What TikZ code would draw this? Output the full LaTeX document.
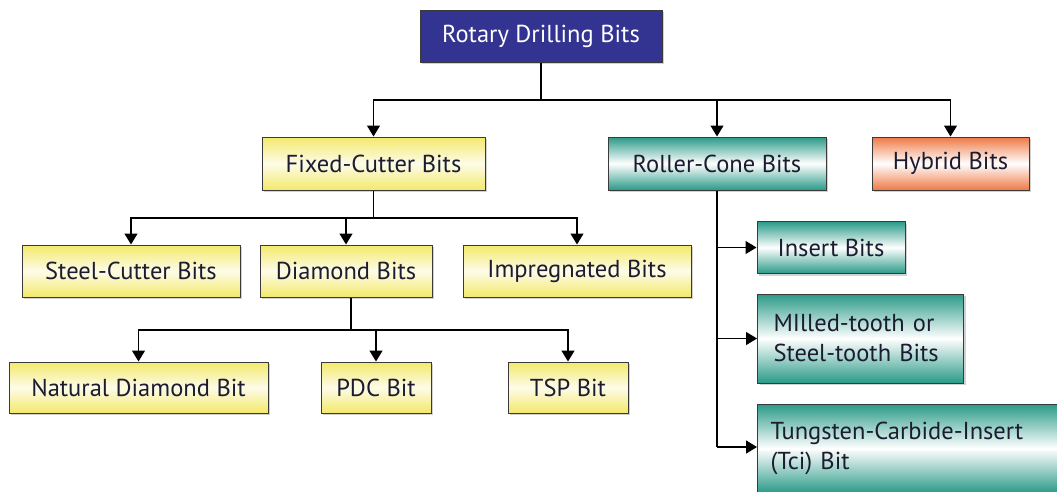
\documentclass[tikz,border=0pt]{standalone}
\usepackage{fontspec}
\setmainfont{PT Sans}
\usetikzlibrary{arrows.meta,shadows}
\definecolor{rootblue}{HTML}{333391}
\definecolor{yfill}{HTML}{F3E96A}
\definecolor{tfill}{HTML}{2A9A88}
\definecolor{ofill}{HTML}{EE7A45}
\definecolor{edgegray}{HTML}{3A3A3A}
\definecolor{txt}{HTML}{1C1C30}
\tikzset{
  x=1pt, y=-1pt,
  box/.style={draw=edgegray, line width=1pt, rectangle, inner sep=0pt,
    font=\fontsize{24.5}{30}\selectfont, text=txt,
    drop shadow={shadow xshift=2pt, shadow yshift=-2pt, fill=black!30, opacity=0.6}},
  ybox/.style={box, top color=yfill, bottom color=yfill, middle color=white!85!yfill},
  tbox/.style={box, top color=tfill, bottom color=tfill, middle color=white},
  obox/.style={box, top color=ofill, bottom color=ofill, middle color=white},
  rootbox/.style={box, fill=rootblue, text=white},
  conn/.style={draw=black, line width=1.3pt},
  arr/.style={conn, -{Triangle[length=11pt,width=13pt]}}
}
\begin{document}
\begin{tikzpicture}
\useasboundingbox (0,0) rectangle (1057,491);

% root
\node[rootbox, minimum width=242pt, minimum height=52pt] (root) at (541,36) {Rotary Drilling Bits};

% first level
\node[ybox, minimum width=223pt, minimum height=53pt] (fc) at (373.5,163.5) {Fixed-Cutter Bits};
\node[tbox, minimum width=218pt, minimum height=53pt] (rc) at (717,163.5) {Roller-Cone Bits};
\node[obox, minimum width=157pt, minimum height=53pt] (hy) at (950.5,163.5) {Hybrid Bits};

% fixed-cutter children
\node[ybox, minimum width=218pt, minimum height=52pt] (sc) at (131,271) {Steel-Cutter Bits};
\node[ybox, minimum width=172pt, minimum height=52pt] (di) at (346,271) {Diamond Bits};
\node[ybox, minimum width=228pt, minimum height=52pt] (im) at (577,271) {Impregnated Bits};

% diamond children
\node[ybox, minimum width=259pt, minimum height=51pt] (nd) at (138.5,387.5) {Natural Diamond Bit};
\node[ybox, minimum width=110pt, minimum height=51pt] (pdc) at (376,387.5) {PDC Bit};
\node[ybox, minimum width=120pt, minimum height=51pt] (tsp) at (568,387.5) {TSP Bit};

% roller-cone children
\node[tbox, minimum width=148pt, minimum height=52pt] (ins) at (831,247.5) {Insert Bits};
\node[tbox, minimum width=206pt, minimum height=89pt, align=left, anchor=west,
      text width=174pt, inner xsep=16pt] (mt) at (757,338.5)
      {MIlled-tooth or\\Steel-tooth Bits};
\node[tbox, minimum width=320pt, minimum height=89pt, align=left, anchor=west,
      text width=294pt, inner xsep=13pt] (tci) at (757,448.5)
      {Tungsten-Carbide-Insert\\(Tci) Bit};

% connectors
\coordinate (j0) at (541,100);
\draw[conn] (root.south) -- (j0);
\draw[arr] (j0) -| (fc.north);
\draw[arr] (j0) -| (rc.north);
\draw[arr] (j0) -| (hy.north);

\coordinate (j1) at (373.5,218);
\draw[conn] (fc.south) -- (j1);
\draw[arr] (j1) -| (sc.north);
\draw[arr] (j1) -| (di.north);
\draw[arr] (j1) -| (im.north);

\coordinate (j2) at (351,330);
\draw[conn] (di.south -| j2) -- (j2);
\draw[arr] (j2) -| (nd.north);
\draw[arr] (j2) -| (pdc.north);
\draw[arr] (j2) -| (tsp.north);

\coordinate (j3) at (717,447);
\draw[conn] (rc.south) -- (j3);
\draw[arr] (rc.south |- ins.west) -- (ins.west);
\draw[arr] (rc.south |- mt.west) -- (mt.west);
\draw[arr] (j3) -- (j3 -| tci.west);
\end{tikzpicture}
\end{document}
